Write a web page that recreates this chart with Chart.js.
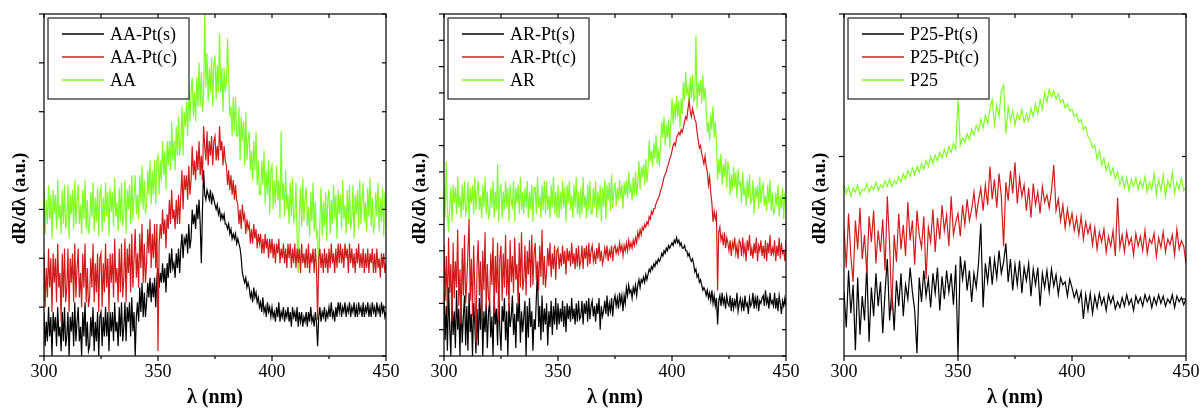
<!DOCTYPE html>
<html>
<head>
<meta charset="utf-8">
<script src="https://cdn.jsdelivr.net/npm/chart.js@4.4.1/dist/chart.umd.min.js"></script>
<style>
html,body{margin:0;padding:0;background:#fff;}
#wrap{display:flex;width:1200px;height:410px;}
.panel{width:400px;height:410px;position:relative;}
canvas{display:block;}
</style>
</head>
<body>
<div id="wrap">
  <div class="panel"><canvas id="c1" width="400" height="410"></canvas></div>
  <div class="panel"><canvas id="c2" width="400" height="410"></canvas></div>
  <div class="panel"><canvas id="c3" width="400" height="410"></canvas></div>
</div>
<script>
// wavelength grids (nm): 0.5 nm sampling for AA / AR, 1 nm for P25
const WAVELENGTHS_FINE = Array.from({length: 301}, (_, i) => 300 + i * 0.5);
const WAVELENGTHS = Array.from({length: 151}, (_, i) => 300 + i);

// ---- Panel 1: AA (0.5 nm) ----
const AA_PT_S = [
 0.9,0.2,0.7,0.3,1.0,0.4,0.8,0.0,0.9,0.5,
 0.8,0.2,1.0,0.4,0.6,0.1,0.9,0.3,1.0,0.2,
 0.4,0.9,0.0,0.8,0.5,0.9,0.2,1.1,0.3,0.7,
 1.0,0.3,0.6,0.0,0.9,0.4,1.1,0.2,0.7,0.1,
 0.2,0.8,0.4,1.0,0.1,0.7,0.3,0.9,0.0,0.8,
 0.9,0.2,0.8,0.4,1.0,0.4,0.9,0.1,0.9,0.5,
 0.9,0.3,1.1,0.5,0.7,0.2,1.0,0.4,1.1,0.3,
 0.6,1.1,0.3,1.0,0.7,1.1,0.4,1.2,0.5,0.9,
 0.0,0.8,1.1,0.7,1.4,0.9,1.5,0.8,1.3,0.8,
 1.1,1.5,1.2,1.6,1.1,1.5,1.2,1.6,1.0,1.6,
 1.8,1.4,1.7,1.5,1.9,1.5,1.8,1.3,1.9,1.6,
 2.1,1.7,2.2,1.8,1.9,1.6,2.1,1.8,2.2,1.7,
 2.2,2.5,2.0,2.4,2.3,2.5,2.1,2.7,2.2,2.4,
 3.0,2.7,2.9,2.6,3.1,2.8,3.2,2.7,1.9,3.0,
 3.8,3.3,3.2,3.4,3.3,3.2,3.4,3.1,3.3,3.2,
 3.1,3.0,3.1,2.9,3.0,2.8,2.9,2.8,2.9,2.7,
 2.7,2.6,2.7,2.5,2.6,2.4,2.5,2.4,2.5,2.3,
 2.4,2.3,2.2,2.0,1.7,1.6,1.5,1.6,1.4,1.5,
 1.4,1.2,1.3,1.1,1.4,1.2,1.3,1.1,1.2,1.0,
 1.1,0.9,1.2,0.9,1.0,0.8,1.1,0.9,1.0,0.8,
 1.0,0.8,0.9,0.7,1.0,0.8,1.1,0.7,0.9,0.8,
 1.0,0.7,0.9,0.8,1.0,0.7,0.9,0.6,1.0,0.8,
 0.9,0.7,1.0,0.6,0.9,0.7,0.9,0.6,0.8,0.7,
 0.9,0.6,0.9,0.7,1.0,0.7,0.8,0.6,0.9,0.7,
 0.2,0.8,1.0,0.7,0.9,0.8,1.0,0.7,0.9,0.8,
 1.0,0.8,1.1,0.8,0.9,0.7,1.0,0.8,1.1,0.9,
 1.1,0.8,1.0,0.9,1.1,0.8,1.0,0.9,1.1,0.8,
 1.0,0.9,1.1,0.8,1.0,0.8,1.1,0.9,1.0,0.8,
 1.1,0.8,1.0,0.9,1.1,0.8,1.0,0.8,1.1,0.9,
 1.0,0.8,1.1,0.9,1.0,0.8,1.1,0.9,1.0,0.8,
 0.9];
const AA_PT_C = [
 2.1,1.0,1.8,1.2,2.2,1.4,2.0,0.9,2.1,1.5,
 2.0,1.1,2.3,1.4,1.7,0.7,2.1,1.2,2.2,1.1,
 1.4,2.2,0.9,2.0,1.5,2.1,1.1,2.3,1.2,1.8,
 2.2,1.2,1.7,1.0,2.1,1.4,2.3,1.1,1.8,1.0,
 1.2,2.0,1.4,2.3,1.1,1.9,1.3,2.1,0.9,2.0,
 2.1,1.0,1.9,1.3,2.3,1.4,2.0,0.9,2.1,1.5,
 2.1,1.2,2.4,1.5,1.8,1.1,2.2,1.3,2.3,1.2,
 1.6,2.4,1.1,2.2,1.7,2.3,1.3,2.5,1.4,2.0,
 2.6,1.6,2.1,1.4,2.5,1.8,2.7,1.5,2.3,1.5,
 1.9,2.6,2.1,2.8,1.8,2.5,2.0,2.7,1.8,2.7,
 0.1,2.3,2.7,2.4,3.0,2.5,2.8,2.2,2.9,2.6,
 3.2,2.7,3.4,2.8,3.0,2.6,3.2,2.7,3.3,2.7,
 3.3,3.8,3.0,3.7,3.4,3.7,3.2,3.9,3.3,3.6,
 4.3,3.7,4.0,3.6,4.2,3.8,4.4,3.7,4.1,3.6,
 4.7,4.3,4.0,4.6,3.9,4.4,4.1,4.5,3.9,4.4,
 4.5,4.0,4.3,4.0,4.7,4.2,4.4,3.9,4.3,4.0,
 3.9,3.5,3.8,3.4,3.7,3.3,3.6,3.2,3.5,3.2,
 3.1,2.7,3.0,2.6,3.1,2.8,2.9,2.5,2.8,2.6,
 2.7,2.3,2.6,2.3,2.7,2.4,2.6,2.2,2.5,2.3,
 2.5,2.1,2.4,2.1,2.5,2.2,2.4,2.0,2.4,2.1,
 2.4,2.0,2.3,1.9,2.3,2.1,2.4,1.9,2.2,2.0,
 2.3,1.9,2.2,1.8,2.3,2.0,2.3,1.8,2.2,1.9,
 2.3,1.8,2.2,1.9,2.2,1.7,2.3,1.9,2.1,1.8,
 2.2,1.8,2.3,1.7,2.1,1.9,2.2,1.7,2.2,1.8,
 0.74,2.0,2.2,1.8,2.1,1.7,2.2,1.8,2.1,1.7,
 2.2,1.8,2.3,1.9,2.1,1.7,2.2,1.8,2.3,1.9,
 2.3,1.9,2.2,1.8,2.3,2.0,2.2,1.7,2.3,1.9,
 2.2,1.8,2.1,1.7,2.2,1.9,2.3,1.8,2.1,1.8,
 2.2,1.7,2.1,1.8,2.2,1.7,2.1,1.9,2.2,1.7,
 2.1,1.7,2.2,1.8,2.0,1.6,2.1,1.8,2.1,1.7,
 1.9];
const AA = [
 3.4,2.5,3.2,2.7,3.5,2.8,3.3,2.4,3.4,2.9,
 3.3,2.6,3.6,2.8,3.1,2.5,3.4,2.7,3.5,2.6,
 2.8,3.5,2.4,3.3,2.9,3.4,2.6,3.6,2.7,3.2,
 3.5,2.7,3.1,2.5,3.4,2.8,3.6,2.6,3.2,2.5,
 2.65,3.35,2.85,3.55,2.55,3.25,2.75,3.45,2.45,3.35,
 3.45,2.55,3.25,2.75,3.55,2.85,3.35,2.45,3.45,2.95,
 3.35,2.65,3.65,2.85,3.15,2.55,3.45,2.75,3.55,2.65,
 2.9,3.6,2.5,3.4,3.0,3.5,2.7,3.7,2.8,3.3,
 3.7,2.9,3.3,2.8,3.7,3.1,3.9,3.0,3.6,2.9,
 3.1,3.8,3.3,4.0,3.1,3.8,3.3,4.0,3.1,4.0,
 4.1,3.3,4.0,3.6,4.4,3.7,4.2,3.4,4.4,3.9,
 4.4,3.8,4.8,4.0,4.4,3.8,4.7,4.1,4.9,4.1,
 4.4,5.1,4.1,5.0,4.7,5.2,4.5,5.6,4.8,5.4,
 5.7,4.9,5.4,4.8,5.7,5.1,6.0,5.1,5.8,5.0,
 5.3,7.0,5.5,6.2,5.2,5.9,5.4,6.1,5.1,6.0,
 6.15,5.25,5.95,5.4,6.6,5.4,5.9,5.0,5.9,5.4,
 5.6,6.5,5.7,4.9,5.1,4.5,5.3,4.6,5.3,4.5,
 4.5,5.1,4.0,4.9,4.4,4.8,3.9,5.0,4.0,4.4,
 4.6,3.8,4.2,3.6,4.4,3.8,4.6,3.5,4.0,3.3,
 3.3,4.0,3.5,4.2,3.1,3.8,3.3,4.0,2.9,3.8,
 3.9,3.0,3.6,3.1,3.9,3.2,3.6,2.8,4.6,3.2,
 3.55,2.85,3.8,3.0,3.3,2.7,3.55,2.85,3.65,2.75,
 2.85,3.55,2.45,1.7,2.95,3.45,2.65,3.65,2.75,3.25,
 3.45,2.65,3.05,2.45,3.35,2.75,3.55,2.55,3.15,2.45,
 2.55,1.6,2.75,3.45,2.45,3.15,2.65,3.35,2.35,3.25,
 3.4,2.5,3.2,2.7,3.5,2.8,3.3,2.4,3.4,2.9,
 3.3,2.6,3.6,2.8,3.1,2.5,3.4,2.7,3.5,2.6,
 2.8,3.5,2.4,3.3,2.9,3.4,2.6,3.6,2.7,3.2,
 3.55,2.75,3.15,2.55,3.45,2.85,3.65,2.65,3.25,2.55,
 2.65,3.35,2.85,3.55,2.55,3.25,2.75,3.45,2.45,3.35,
 3.0];

// ---- Panel 2: AR (0.5 nm) ----
const AR_PT_S = [
 2.4,0.6,1.9,0.2,2.6,1.1,0.0,2.2,0.8,1.7,
 0.3,2.5,1.0,1.8,0.0,2.1,0.5,1.5,2.3,0.4,
 1.9,0.2,2.4,0.9,1.6,0.0,2.0,1.2,0.1,1.8,
 0.4,2.2,1.0,2.7,0.0,1.7,0.9,2.0,0.3,1.6,
 2.1,0.7,1.5,0.0,2.3,1.2,1.8,0.4,2.5,1.0,
 0.2,1.9,1.3,2.2,0.6,1.7,0.0,2.0,1.1,1.5,
 2.3,0.8,1.6,0.3,2.0,1.3,2.4,0.5,1.7,0.9,
 1.5,2.1,0.0,1.9,0.7,2.2,1.1,1.7,0.2,1.4,
 1.0,2.2,3.3,1.1,1.9,0.6,2.3,0.9,1.8,1.2,
 2.0,0.4,1.7,1.1,2.1,0.8,1.9,1.2,2.2,1.0,
 2.0,1.2,1.8,1.3,2.1,1.1,1.9,0.9,2.0,1.4,
 1.9,1.3,2.2,1.4,1.8,1.2,2.0,1.3,2.1,1.4,
 1.5,2.1,1.2,2.0,1.6,2.1,1.3,2.2,1.4,1.9,
 2.1,1.5,1.9,1.3,2.0,1.6,2.2,1.0,1.9,1.5,
 1.7,2.1,1.6,2.3,1.5,2.0,1.7,2.2,1.5,2.1,
 2.3,1.9,2.2,1.8,2.4,2.0,2.3,1.7,2.3,2.0,
 2.6,2.3,2.7,2.4,2.5,2.2,2.6,2.4,2.7,2.3,
 2.7,2.9,2.6,2.9,2.8,3.0,2.8,3.1,2.9,3.1,
 3.3,3.2,3.4,3.3,3.5,3.4,3.6,3.5,3.7,3.6,
 3.7,3.9,3.8,4.0,3.9,4.1,4.0,4.2,4.1,4.2,
 4.3,4.2,4.4,4.3,4.5,4.3,4.4,4.2,4.3,4.1,
 4.1,4.2,4.0,4.0,3.8,3.9,3.7,3.6,3.7,3.5,
 3.2,3.3,3.0,3.1,2.8,2.9,2.7,2.5,2.6,2.5,
 2.3,2.5,2.2,2.4,2.1,2.5,2.0,2.3,1.9,2.2,
 1.2,2.1,2.3,1.9,2.4,2.0,2.2,1.8,2.3,2.0,
 1.9,2.3,1.7,2.2,1.8,2.1,1.9,2.4,1.7,2.0,
 2.2,1.8,2.1,1.7,2.3,1.9,2.0,1.6,2.2,1.9,
 2.0,2.4,1.8,2.2,1.9,2.3,1.7,2.1,2.0,2.2,
 2.3,1.9,2.5,2.0,2.2,1.8,2.4,2.0,2.1,1.9,
 2.4,1.8,2.2,1.7,2.3,2.0,1.6,2.1,1.9,2.2,
 1.9];
const AR_PT_C = [
 4.2,2.1,3.8,1.6,4.5,2.4,3.5,1.3,4.3,2.2,
 3.6,2.6,4.8,1.9,3.3,1.2,4.1,2.3,4.6,2.0,
 2.8,4.0,5.2,2.1,3.7,1.5,4.2,2.6,0.5,3.4,
 4.4,2.3,3.6,1.4,4.0,2.5,4.7,1.8,3.5,2.2,
 2.0,3.9,2.7,4.5,1.6,3.8,2.4,4.3,1.3,3.7,
 4.2,2.1,3.9,2.6,4.6,2.3,3.7,1.7,4.4,2.8,
 3.8,2.4,4.5,2.9,3.5,2.0,4.3,2.6,4.7,2.5,
 2.9,4.2,2.3,4.0,3.1,4.4,2.6,4.6,2.7,3.9,
 4.3,2.9,3.6,2.5,4.2,3.0,4.8,2.7,3.8,2.6,
 3.2,4.1,3.4,4.3,3.0,3.9,3.3,4.2,2.9,4.0,
 4.1,3.3,3.9,3.4,4.2,3.5,4.0,3.1,4.1,3.6,
 4.0,3.4,4.3,3.5,3.9,3.3,4.1,3.4,4.2,3.4,
 3.6,4.2,3.3,4.1,3.7,4.2,3.4,4.3,3.5,4.0,
 4.2,3.6,3.9,3.5,4.1,3.7,4.3,3.6,4.0,3.5,
 3.7,4.1,3.8,4.2,3.6,4.0,3.8,4.2,3.6,4.1,
 4.2,3.9,4.1,3.9,4.3,4.0,4.2,3.8,4.2,4.0,
 4.3,4.0,4.4,4.1,4.3,4.1,4.4,4.2,4.5,4.3,
 4.7,4.5,4.8,4.6,4.9,4.8,5.0,4.9,5.1,5.0,
 5.3,5.2,5.5,5.4,5.6,5.6,5.8,5.9,6.0,6.1,
 6.3,6.4,6.6,6.8,6.9,7.0,7.2,7.3,7.5,7.6,
 7.8,8.0,8.1,8.0,8.3,8.4,8.5,8.4,8.6,8.5,
 8.7,8.9,9.1,9.0,9.4,9.7,9.3,9.1,9.4,9.2,
 9.0,8.9,8.5,8.2,7.9,8.0,7.7,7.5,7.3,7.6,
 7.2,7.0,6.5,6.8,6.2,5.8,5.1,5.5,5.2,5.4,
 2.5,4.7,4.9,4.4,4.6,4.2,4.7,4.1,4.5,4.3,
 4.0,4.4,3.8,4.3,4.1,4.5,3.9,4.2,3.7,4.4,
 4.3,3.8,4.5,3.9,4.2,3.6,4.4,4.0,4.6,3.8,
 4.1,3.7,4.3,3.9,4.5,3.6,4.2,4.0,4.4,3.8,
 4.2,3.7,4.4,3.6,4.3,3.9,4.6,3.8,4.1,3.9,
 4.4,3.6,4.2,3.8,4.5,3.7,4.3,3.9,4.0,3.6,
 4.4];
const AR = [
 6.5,5.25,7.4,5.55,4.7,5.65,6.4,5.1,6.5,5.8,
 6.4,5.4,6.8,5.65,6.1,5.25,6.5,5.55,6.65,5.4,
 5.65,6.65,5.1,6.4,5.8,6.5,5.4,6.8,5.55,6.25,
 6.65,5.55,6.1,5.25,6.5,5.65,6.8,5.4,6.25,5.25,
 5.4,6.4,5.65,6.65,5.25,6.25,5.55,7.3,5.1,6.4,
 6.5,5.25,6.25,5.55,6.65,5.65,6.4,5.1,6.5,5.8,
 5.65,6.65,5.1,6.4,5.8,6.5,5.4,6.8,5.55,6.25,
 5.4,6.4,5.65,6.65,5.25,6.25,5.55,6.5,5.1,6.4,
 6.4,5.4,6.8,5.65,6.1,5.25,6.5,5.55,6.65,5.4,
 6.65,5.55,6.1,5.25,6.5,5.65,6.8,5.4,6.25,5.25,
 6.5,5.25,6.25,5.55,6.65,5.65,6.4,5.1,6.5,5.8,
 6.65,5.55,6.1,5.25,6.5,5.65,6.8,5.4,6.25,5.25,
 6.4,5.4,6.8,5.65,6.1,5.25,6.5,5.55,6.65,5.4,
 5.4,6.4,5.65,6.65,5.25,6.25,5.55,6.5,5.1,6.4,
 5.7,6.7,5.2,6.5,5.9,6.6,5.5,6.9,5.6,6.3,
 6.6,5.7,6.4,5.9,6.7,6.0,6.5,5.6,6.6,6.1,
 6.7,6.0,7.0,6.2,6.5,5.9,6.8,6.1,7.0,6.1,
 6.6,7.4,6.3,7.2,6.8,7.3,6.5,7.5,6.6,7.1,
 8.2,7.4,7.8,7.2,8.1,7.5,8.4,7.3,7.9,7.2,
 8.1,8.9,8.3,9.1,8.0,8.8,8.3,9.0,7.9,8.9,
 9.8,8.8,9.6,9.0,9.9,9.1,9.7,8.7,9.8,9.2,
 10.4,9.7,10.8,9.9,10.2,9.6,10.6,9.8,10.7,9.7,
 9.8,12.2,9.4,10.4,9.9,10.5,9.6,10.7,9.7,10.2,
 9.4,8.5,8.9,8.2,9.2,8.6,9.5,8.3,8.9,8.1,
 6.7,7.5,6.9,7.7,6.5,7.3,6.8,7.5,6.4,7.4,
 7.1,6.1,6.9,6.3,7.2,6.4,7.0,6.0,7.1,6.5,
 6.6,5.8,7.0,6.1,6.4,5.7,6.7,6.0,6.9,5.8,
 5.9,6.7,5.4,6.4,6.0,6.5,5.6,6.8,5.8,6.3,
 6.6,5.7,6.1,5.5,6.5,5.8,6.7,5.5,6.2,5.4,
 5.5,6.2,5.7,6.5,5.3,6.1,5.6,6.4,5.2,6.2,
 5.8];

// ---- Panel 3: P25 (1 nm) ----
const P25_PT_S = [
 0.05,-0.20,0.20,-0.10,0.10,-0.36,0.15,-0.25,0.02,-0.15,
 0.24,-0.30,0.08,-0.12,0.18,-0.05,0.12,-0.24,0.05,0.28,
 -0.15,0.06,-0.22,0.13,-0.05,0.18,-0.12,0.10,0.00,0.22,
 0.05,-0.08,-0.38,0.15,-0.02,0.20,0.02,0.14,-0.06,0.18,
 0.04,0.22,-0.08,0.16,0.00,0.20,0.05,0.18,-0.04,0.24,
 -0.40,0.30,0.14,0.27,0.06,0.20,-0.02,0.18,0.08,0.25,
 0.53,-0.06,0.25,0.12,0.30,0.10,0.28,0.15,0.34,0.18,
 0.26,0.39,0.12,0.28,0.06,0.24,0.10,0.27,0.04,0.22,
 0.13,0.25,0.02,0.21,0.10,0.22,-0.05,0.18,0.08,0.20,
 0.05,0.21,0.09,0.17,0.03,0.15,0.10,0.12,0.02,0.14,
 0.08,0.01,0.06,-0.02,0.05,-0.14,0.03,-0.08,0.04,-0.10,
 0.02,-0.06,0.04,-0.04,0.01,-0.08,0.03,-0.03,0.02,-0.07,
 -0.02,-0.06,0.01,-0.05,0.03,-0.04,0.00,-0.08,0.02,-0.03,
 0.01,-0.05,0.03,-0.02,0.02,-0.06,0.01,-0.04,0.03,-0.03,
 0.02,-0.05,0.00,-0.03,0.03,-0.06,0.02,-0.02,0.01,-0.04,
 0.00];
const P25_PT_C = [
 0.50,0.22,0.60,0.30,0.12,0.55,0.35,0.64,0.28,0.45,
 0.18,0.58,0.40,0.62,0.25,0.48,0.33,0.56,0.20,0.72,
 0.38,-0.08,0.45,0.26,0.60,0.35,0.52,0.30,0.68,0.41,
 0.55,0.24,0.62,0.45,0.36,0.58,0.14,0.50,0.40,0.63,
 0.33,0.57,0.42,0.66,0.48,0.59,0.37,0.72,0.45,0.54,
 0.60,0.44,0.66,0.52,0.70,0.55,0.63,0.75,0.58,0.69,
 0.78,0.62,0.80,0.66,0.93,0.70,0.84,0.64,0.88,0.72,
 0.37,0.82,0.69,0.90,0.74,0.96,0.67,0.85,0.72,0.80,
 0.62,0.78,0.57,0.81,0.66,0.75,0.60,0.79,0.68,0.73,
 0.64,0.76,0.94,0.62,0.70,0.55,0.66,0.50,0.63,0.52,
 0.60,0.48,0.57,0.45,0.58,0.42,0.54,0.46,0.52,0.38,
 0.50,0.35,0.47,0.40,0.49,0.33,0.44,0.37,0.48,0.30,
 0.71,0.36,0.45,0.33,0.47,0.38,0.43,0.31,0.46,0.37,
 0.44,0.34,0.48,0.32,0.42,0.39,0.46,0.30,0.43,0.36,
 0.47,0.33,0.42,0.38,0.45,0.31,0.49,0.35,0.41,0.37,
 0.25];
const P25 = [
 0.80,0.74,0.79,0.72,0.78,0.75,0.80,0.73,0.77,0.76,
 0.81,0.75,0.79,0.77,0.82,0.76,0.80,0.78,0.83,0.79,
 0.84,0.79,0.83,0.81,0.86,0.82,0.88,0.84,0.90,0.86,
 0.92,0.87,0.93,0.89,0.95,0.91,0.97,0.93,1.00,0.95,
 1.01,0.97,1.03,0.99,1.05,1.00,1.07,1.03,1.09,1.05,
 1.40,1.08,1.13,1.10,1.16,1.12,1.19,1.15,1.22,1.18,
 1.26,1.20,1.29,1.23,1.33,1.40,1.22,1.36,1.28,1.46,
 1.50,1.16,1.35,1.25,1.32,1.22,1.30,1.26,1.33,1.24,
 1.30,1.25,1.34,1.28,1.37,1.30,1.40,1.33,1.45,1.38,
 1.47,1.42,1.46,1.40,1.44,1.38,1.40,1.34,1.37,1.32,
 1.33,1.28,1.30,1.24,1.26,1.19,1.21,1.14,1.12,1.06,
 1.08,0.98,1.04,0.94,0.99,0.90,0.95,0.87,0.92,0.84,
 0.89,0.80,0.86,0.78,0.85,0.76,0.84,0.79,0.85,0.77,
 0.83,0.78,0.86,0.75,0.82,0.77,0.88,0.73,0.84,0.76,
 0.87,0.72,0.83,0.78,0.89,0.74,0.82,0.77,0.85,0.76,
 0.79];

// axis ticks
const X_TICK_LABELS = [300, 350, 400, 450];
const X_MINOR_TICKS = [325, 375, 425];
const Y_TICKS_AA = [0, 1, 2, 3, 4, 5, 6, 7];
const Y_TICKS_AR = [0, 1, 2, 3, 4, 5, 6, 7, 8, 9, 10, 11, 12, 13];
const Y_TICKS_P25 = [0, 1, 2];

const SERIES_COLORS = ['#000000', '#d21c1c', '#80ff26'];
const FONT = "'Liberation Serif', 'Times New Roman', serif";
// y title; trailing no-break spaces nudge the rotated label a little lower, as in the original
const Y_TITLE = 'dR/dλ (a.u.)' + '\u00a0'.repeat(6);

const frameTicksPlugin = {
  id: 'frameTicks',
  afterDatasetsDraw(chart, args, opts) {
    const {ctx, chartArea: a} = chart;
    const x = chart.scales.x, y = chart.scales.y;
    ctx.save();
    ctx.strokeStyle = '#000';
    ctx.lineWidth = 1.2;
    ctx.strokeRect(a.left, a.top, a.right - a.left, a.bottom - a.top);
    const seg = (x1, y1, x2, y2) => { ctx.beginPath(); ctx.moveTo(x1, y1); ctx.lineTo(x2, y2); ctx.stroke(); };
    opts.xMajor.forEach(v => {
      const p = x.getPixelForValue(v);
      seg(p, a.bottom, p, a.bottom + 5);
      seg(p, a.top, p, a.top + 4);
    });
    opts.xMinor.forEach(v => {
      const p = x.getPixelForValue(v);
      seg(p, a.bottom, p, a.bottom + 3);
      seg(p, a.top, p, a.top + 4);
    });
    opts.yTicks.forEach(v => {
      const p = y.getPixelForValue(v);
      seg(a.left - 5, p, a.left, p);
      seg(a.right - 4, p, a.right, p);
    });
    ctx.restore();
  }
};

const boxLegendPlugin = {
  id: 'boxLegend',
  afterDraw(chart) {
    const {ctx, chartArea: a} = chart;
    const x0 = a.left + 4, y0 = a.top + 4, w = 141, h = 81;
    ctx.save();
    ctx.fillStyle = '#fff';
    ctx.fillRect(x0, y0, w, h);
    ctx.strokeStyle = '#222';
    ctx.lineWidth = 1.2;
    ctx.strokeRect(x0, y0, w, h);
    ctx.font = '18px ' + FONT;
    ctx.textBaseline = 'middle';
    ctx.textAlign = 'left';
    chart.data.datasets.forEach((ds, i) => {
      const yy = y0 + 16 + i * 23;
      ctx.strokeStyle = ds.borderColor;
      ctx.lineWidth = 1.3;
      ctx.beginPath(); ctx.moveTo(x0 + 14, yy); ctx.lineTo(x0 + 56, yy); ctx.stroke();
      ctx.fillStyle = '#000';
      ctx.fillText(ds.label, x0 + 62, yy + 1);
    });
    ctx.restore();
  }
};

function makePanel(id, names, grid, seriesList, yMin, yMax, yTicks) {
  const datasets = seriesList.map((s, i) => ({
    label: names[i],
    data: s.map((v, k) => ({x: grid[k], y: v})),
    borderColor: SERIES_COLORS[i],
    borderWidth: 1.2,
    pointRadius: 0,
    tension: 0,
    fill: false,
    order: [2, 0, 1][i]
  }));
  new Chart(document.getElementById(id), {
    type: 'line',
    data: {datasets},
    options: {
      responsive: false,
      animation: false,
      events: [],
      layout: {padding: {top: 14, right: 14, left: 0, bottom: 0}},
      plugins: {
        legend: {display: false},
        tooltip: {enabled: false},
        frameTicks: {xMajor: X_TICK_LABELS, xMinor: X_MINOR_TICKS, yTicks: yTicks}
      },
      scales: {
        x: {
          type: 'linear',
          min: 300, max: 450,
          afterBuildTicks: s => { s.ticks = X_TICK_LABELS.map(v => ({value: v})); },
          afterFit: s => { s.height = 54; s.paddingLeft = 0; s.paddingRight = 0; },
          grid: {display: false, drawTicks: false},
          border: {display: false},
          ticks: {
            color: '#000', padding: 5, maxRotation: 0, autoSkip: false,
            font: {family: FONT, size: 18},
            callback: v => String(v)
          },
          title: {
            display: true, text: 'λ (nm)', color: '#000',
            font: {family: FONT, size: 20, weight: 'bold'},
            padding: {top: 0, bottom: 0}
          }
        },
        y: {
          type: 'linear',
          min: yMin, max: yMax,
          afterBuildTicks: s => { s.ticks = yTicks.map(v => ({value: v})); },
          afterFit: s => { s.width = 44; s.paddingTop = 0; s.paddingBottom = 0; },
          grid: {display: false, drawTicks: false},
          border: {display: false},
          ticks: {display: false},
          title: {
            display: true, text: Y_TITLE, color: '#000',
            font: {family: FONT, size: 18, weight: 'bold'},
            padding: {top: 10, bottom: 0}
          }
        }
      }
    },
    plugins: [frameTicksPlugin, boxLegendPlugin]
  });
}

makePanel('c1', ['AA-Pt(s)', 'AA-Pt(c)', 'AA'], WAVELENGTHS_FINE, [AA_PT_S, AA_PT_C, AA], 0, 7, Y_TICKS_AA);
makePanel('c2', ['AR-Pt(s)', 'AR-Pt(c)', 'AR'], WAVELENGTHS_FINE, [AR_PT_S, AR_PT_C, AR], 0, 13, Y_TICKS_AR);
makePanel('c3', ['P25-Pt(s)', 'P25-Pt(c)', 'P25'], WAVELENGTHS, [P25_PT_S, P25_PT_C, P25], -0.4, 2, Y_TICKS_P25);
</script>
</body>
</html>
